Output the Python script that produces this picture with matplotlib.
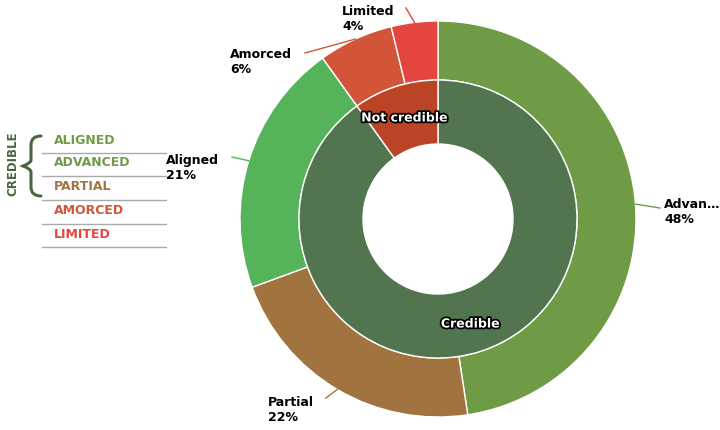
import numpy as np
import matplotlib.pyplot as plt
import matplotlib.patheffects as pe
from matplotlib.path import Path
from matplotlib.patches import PathPatch

# outer ring (clockwise from top)
outer_labels = ["Advanced", "Partial", "Aligned", "Amorced", "Limited"]
outer_values = [47.6, 21.8, 20.7, 6.1, 3.8]
outer_colors = ["#6f9b46", "#a1743f", "#55b35a", "#d35538", "#e5453f"]
outer_text = ["Advan…", "Partial", "Aligned", "Amorced", "Limited"]

# inner ring
inner_labels = ["Credible", "Not credible"]
inner_values = [90.1, 9.9]
inner_colors = ["#52744f", "#bb4426"]

legend_items = ["ALIGNED", "ADVANCED", "PARTIAL", "AMORCED", "LIMITED"]
legend_colors = ["#6f9b46", "#6f9b46", "#a1743f", "#d35538", "#e5453f"]

W, H = 720, 430
fig = plt.figure(figsize=(7.2, 4.3), dpi=100)
ax = fig.add_axes([0, 0, 1, 1])
ax.set_xlim(0, W)
ax.set_ylim(0, H)
ax.set_aspect("equal")
ax.axis("off")

def fy(y):
    return H - y

cx, cy = 438, 219
R_out, R_mid, R_in = 198, 139, 75

ax.pie(outer_values, colors=outer_colors, radius=R_out, center=(cx, fy(cy)),
       startangle=90, counterclock=False,
       wedgeprops=dict(width=R_out - R_mid, edgecolor="white", linewidth=1))
ax.pie(inner_values, colors=inner_colors, radius=R_mid, center=(cx, fy(cy)),
       startangle=90, counterclock=False,
       wedgeprops=dict(width=R_mid - R_in, edgecolor="white", linewidth=1))
ax.set_xlim(0, W)
ax.set_ylim(0, H)

# inner labels
stroke = [pe.withStroke(linewidth=2.5, foreground="black")]
ax.text(404, fy(118), "Not credible", color="white", fontsize=9, fontweight="bold",
        ha="center", va="center", path_effects=stroke)
ax.text(470, fy(324), "Credible", color="white", fontsize=9, fontweight="bold",
        ha="center", va="center", path_effects=stroke)

# outer labels with leader lines
total = sum(outer_values)
label_pos = [(664, 212, "left"), (268, 410, "left"), (166, 168, "left"),
             (230, 62, "left"), (342, 19, "left")]
line_end = [(660, 208), (326, 398), (232, 157), (305, 53), (406, 8)]
start = 0
for i, v in enumerate(outer_values):
    mid = np.radians((start + v / 2) / total * 360)
    start += v
    ex = cx + R_out * np.sin(mid)
    ey = cy - R_out * np.cos(mid)
    lx, ly = line_end[i]
    ax.plot([ex, lx], [fy(ey), fy(ly)], color=outer_colors[i], lw=1)
    pct = round(v / total * 100)
    tx, ty, ha = label_pos[i]
    ax.text(tx, fy(ty), f"{outer_text[i]}\n{pct}%", fontsize=9, fontweight="bold",
            ha=ha, va="center", color="black", linespacing=1.15)

# legend
ys = [140, 163, 187, 211, 234]
for name, col, y in zip(legend_items, legend_colors, ys):
    ax.text(54, fy(y), name, color=col, fontsize=9, fontweight="bold", va="center")
    ax.plot([42, 166], [fy(y + 13), fy(y + 13)], color="#aaaaaa", lw=1)

ax.text(13, fy(164), "CREDIBLE", rotation=90, color="#4a6741", fontsize=8.5,
        fontweight="bold", ha="center", va="center")

# brace
pts = [(41, 136), (31, 136), (31, 145), (31, 152), (31, 160), (31, 163), (23, 166),
       (31, 169), (31, 172), (31, 180), (31, 187), (31, 196), (41, 196)]
codes = [Path.MOVETO, Path.CURVE3, Path.CURVE3, Path.LINETO, Path.LINETO,
         Path.CURVE3, Path.CURVE3, Path.CURVE3, Path.CURVE3, Path.LINETO,
         Path.LINETO, Path.CURVE3, Path.CURVE3]
brace = Path([(x, fy(y)) for x, y in pts], codes)
ax.add_patch(PathPatch(brace, fill=False, edgecolor="#4a6741", lw=2.2, capstyle="round"))

fig.savefig("out.png", dpi=100)
